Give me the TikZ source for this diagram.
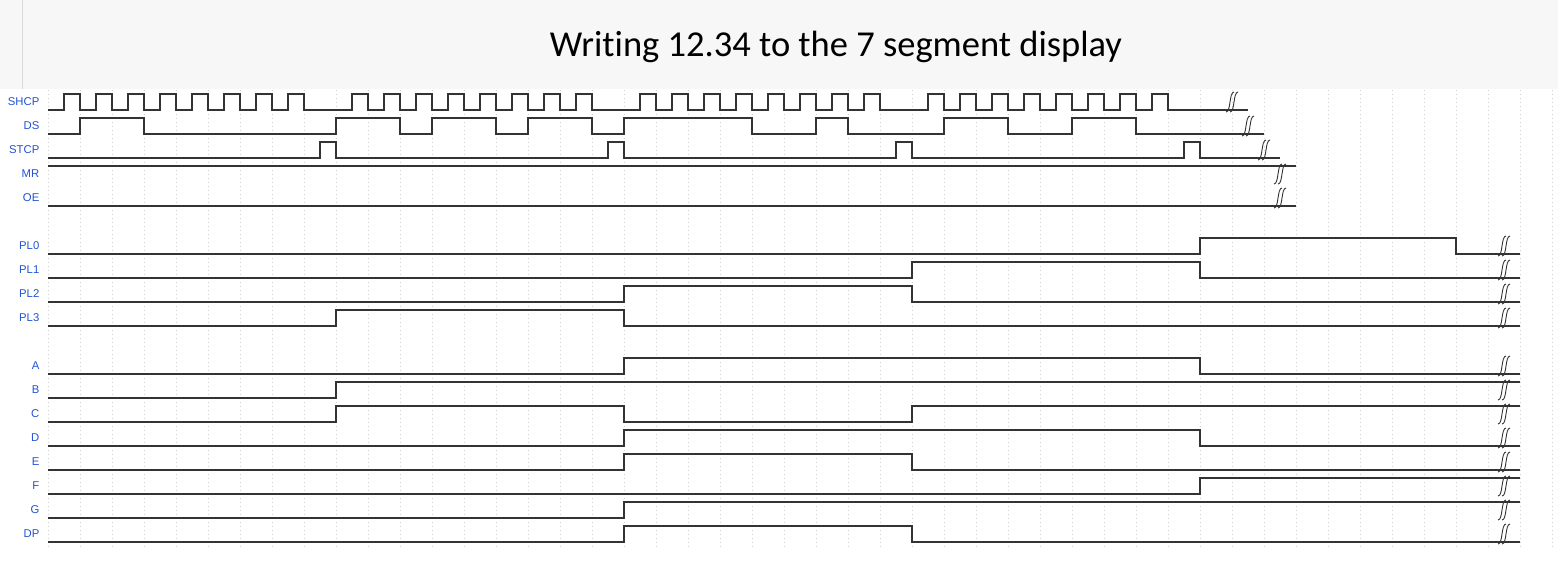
\documentclass[tikz,border=0pt]{standalone}
\usepackage{fontspec}
\setmainfont{Liberation Sans}
\newfontfamily\titlefont[Ligatures={NoCommon,NoRare,NoContextual}]{Carlito}
\definecolor{bandgray}{HTML}{F7F7F7}
\definecolor{bandline}{HTML}{D8D8D8}
\definecolor{labelblue}{RGB}{32,82,210}
\definecolor{wavecol}{HTML}{333333}
\definecolor{gridcol}{HTML}{CFCFCF}
\tikzset{
  wave/.style={draw=wavecol, line width=1.2pt, line join=miter},
  gridline/.style={draw=gridcol, line width=0.7pt, dash pattern=on 1pt off 3pt},
  siglabel/.style={anchor=east, text=labelblue, font=\fontsize{11.3}{13}\selectfont, inner sep=0pt},
  brkline/.style={draw=wavecol, line width=0.9pt},
}
\newcommand\brkmark[2]{% #1 = centre x (px), #2 = low y (px)
  \draw[brkline] ({#1-6},{#2+2}) .. controls ({#1-1},{#2+2}) and ({#1-3},{#2-18}) .. ({#1+2},{#2-18});
  \draw[brkline] ({#1-2},{#2+2}) .. controls ({#1+3},{#2+2}) and ({#1+1},{#2-18}) .. ({#1+6},{#2-18});
}
\begin{document}
\begin{tikzpicture}[x=1pt,y=-1pt]
\useasboundingbox (0,0) rectangle (1558,582);
\fill[white] (0,0) rectangle (1558,582);
% title band
\fill[bandgray] (0,0) rectangle (1558,89);
\draw[bandline, line width=1.3pt] (22.5,0) -- (22.5,89);
\node[anchor=base, font=\titlefont\fontsize{36.5}{40}\selectfont, inner sep=0pt] (title) at (836,56) {Writing 12.34 to the 7 segment display};
% grid
\foreach \k in {0,...,47}{
  \draw[gridline] ({48+32*\k},90) -- ({48+32*\k},550);
}
% labels
\foreach \nm/\r in {SHCP/0,DS/1,STCP/2,MR/3,OE/4,PL0/6,PL1/7,PL2/8,PL3/9,A/11,B/12,C/13,D/14,E/15,F/16,G/17,DP/18}{
  \node[siglabel] (lab-\nm) at (39.5,{102+24*\r}) {\nm};
}
% waveforms
\begin{scope}[x=16pt, shift={(48pt,0pt)}]
  % SHCP
  \draw[wave] (0,110) \foreach \g in {0,18,36,54}{ \foreach \k in {0,...,7}{ -| ({\g+1+2*\k},94) -| ({\g+2+2*\k},110) } } -- (75,110);
  % DS
  \draw[wave] (0,134) -| (2,118) -| (6,134) -| (18,118) -| (22,134) -| (24,118) -| (28,134) -| (30,118) -| (34,134) -| (36,118) -| (44,134) -| (48,118) -| (50,134) -| (56,118) -| (60,134) -| (64,118) -| (68,134) -- (76,134);
  % STCP
  \draw[wave] (0,158) -| (17,142) -| (18,158) -| (35,142) -| (36,158) -| (53,142) -| (54,158) -| (71,142) -| (72,158) -- (77,158);
  % MR, OE
  \draw[wave] (0,166) -- (78,166);
  \draw[wave] (0,206) -- (78,206);
  % PL0..PL3
  \draw[wave] (0,254) -| (72,238) -| (88,254) -- (92,254);
  \draw[wave] (0,278) -| (54,262) -| (72,278) -- (92,278);
  \draw[wave] (0,302) -| (36,286) -| (54,302) -- (92,302);
  \draw[wave] (0,326) -| (18,310) -| (36,326) -- (92,326);
  % segments
  \draw[wave] (0,374) -| (36,358) -| (72,374) -- (92,374);
  \draw[wave] (0,398) -| (18,382) -- (92,382);
  \draw[wave] (0,422) -| (18,406) -| (36,422) -| (54,406) -- (92,406);
  \draw[wave] (0,446) -| (36,430) -| (72,446) -- (92,446);
  \draw[wave] (0,470) -| (36,454) -| (54,470) -- (92,470);
  \draw[wave] (0,494) -| (72,478) -- (92,478);
  \draw[wave] (0,518) -| (36,502) -- (92,502);
  \draw[wave] (0,542) -| (36,526) -| (54,542) -- (92,542);
\end{scope}
% break marks
\brkmark{1232}{110}
\brkmark{1248}{134}
\brkmark{1264}{158}
\brkmark{1280}{182}
\brkmark{1280}{206}
\foreach \r in {6,7,8,9,11,12,13,14,15,16,17,18}{
  \brkmark{1504}{110+24*\r}
}
\end{tikzpicture}
\end{document}
